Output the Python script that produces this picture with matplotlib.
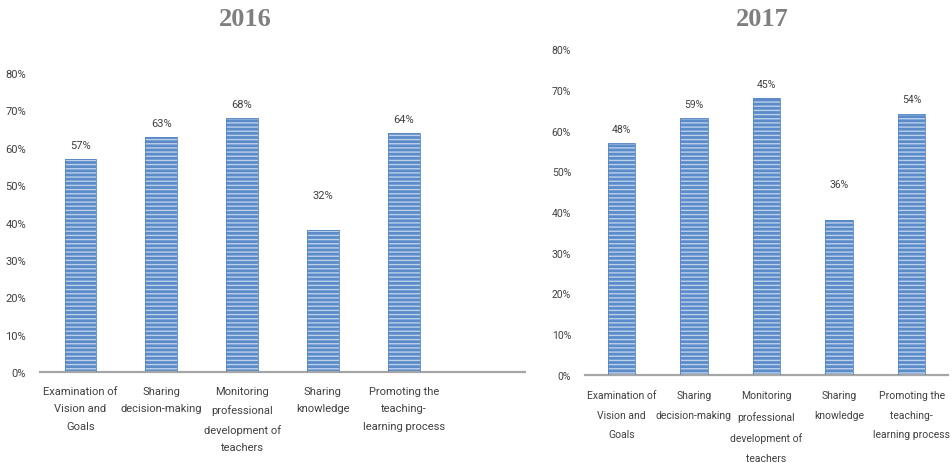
import matplotlib
matplotlib.use("Agg")
import matplotlib.pyplot as plt
from matplotlib.ticker import PercentFormatter

# ---------------------------------------------------------------------------
# Data
# ---------------------------------------------------------------------------
CATEGORIES = [
    "Examination of\nVision and\nGoals",
    "Sharing\ndecision-making",
    "Monitoring\nprofessional\ndevelopment of\nteachers",
    "Sharing\nknowledge",
    "Promoting the\nteaching-\nlearning process",
]
YEARS = ["2016", "2017"]

# bar heights as drawn in the source figure
heights_2016 = [0.57, 0.63, 0.68, 0.38, 0.64]
heights_2017 = [0.57, 0.63, 0.68, 0.38, 0.64]

# value labels printed above the bars
labels_2016 = ["57%", "63%", "68%", "32%", "64%"]
labels_2017 = ["48%", "59%", "45%", "36%", "54%"]

Y_TICKS = [0, 0.1, 0.2, 0.3, 0.4, 0.5, 0.6, 0.7, 0.8]

TEXT = "#404040"
AXIS = "#a6a6a6"
BAR_FACE = "#5b8cc9"
BAR_STRIPE = "#bcd0ea"
BAR_EDGE = "#5685c2"

plt.rcParams["font.family"] = ["Roboto", "DejaVu Sans"]
plt.rcParams["hatch.linewidth"] = 1.0


def draw_panel(fig, rect, heights, labels, n_slots, title, title_x, bar_w,
               offsets, fs, lsp, pad):
    ax = fig.add_axes(rect)
    x = list(range(len(heights)))
    ax.bar(x, heights, width=bar_w, color=BAR_FACE, edgecolor=BAR_STRIPE,
           hatch="----", linewidth=0, zorder=2)
    ax.bar(x, heights, width=bar_w, fill=False, edgecolor=BAR_EDGE,
           linewidth=0.6, zorder=3)

    for xi, h, lab, off in zip(x, heights, labels, offsets):
        ax.annotate(lab, (xi, h), xytext=(0, off), textcoords="offset points",
                    ha="center", va="center", fontsize=fs, color=TEXT)

    ax.set_xlim(-0.5, n_slots - 0.5)
    ax.set_ylim(0, 0.8)
    ax.set_yticks(Y_TICKS)
    ax.yaxis.set_major_formatter(PercentFormatter(1.0, decimals=0))
    ax.set_xticks(x)
    ax.set_xticklabels(CATEGORIES, fontsize=fs, color=TEXT, linespacing=lsp,
                       va="top")
    ax.tick_params(axis="y", length=0, labelsize=fs, labelcolor=TEXT, pad=10)
    ax.tick_params(axis="x", length=0, pad=pad)

    for side in ("top", "right", "left"):
        ax.spines[side].set_visible(False)
    ax.spines["bottom"].set_color(AXIS)
    ax.spines["bottom"].set_linewidth(1.6)

    fig.text(title_x, 0.958, title, ha="center", va="center", fontsize=19,
             fontweight="bold", color="#7f7f7f", family="Liberation Serif")
    return ax


fig = plt.figure(figsize=(9.52, 4.64), dpi=100)

draw_panel(fig, [40 / 952, 91 / 464, 485 / 952, 299 / 464],
           heights_2016, labels_2016, 6, YEARS[0], 245 / 952, 0.39,
           [10, 10, 10, 25, 10], 8, 1.95, 10)
draw_panel(fig, [585 / 952, 88 / 464, 363 / 952, 326 / 464],
           heights_2017, labels_2017, 5, YEARS[1], 762 / 952, 0.38,
           [10, 10, 10, 26, 11], 7.5, 2.2, 11)

fig.savefig("out.png", dpi=100, facecolor="white")
